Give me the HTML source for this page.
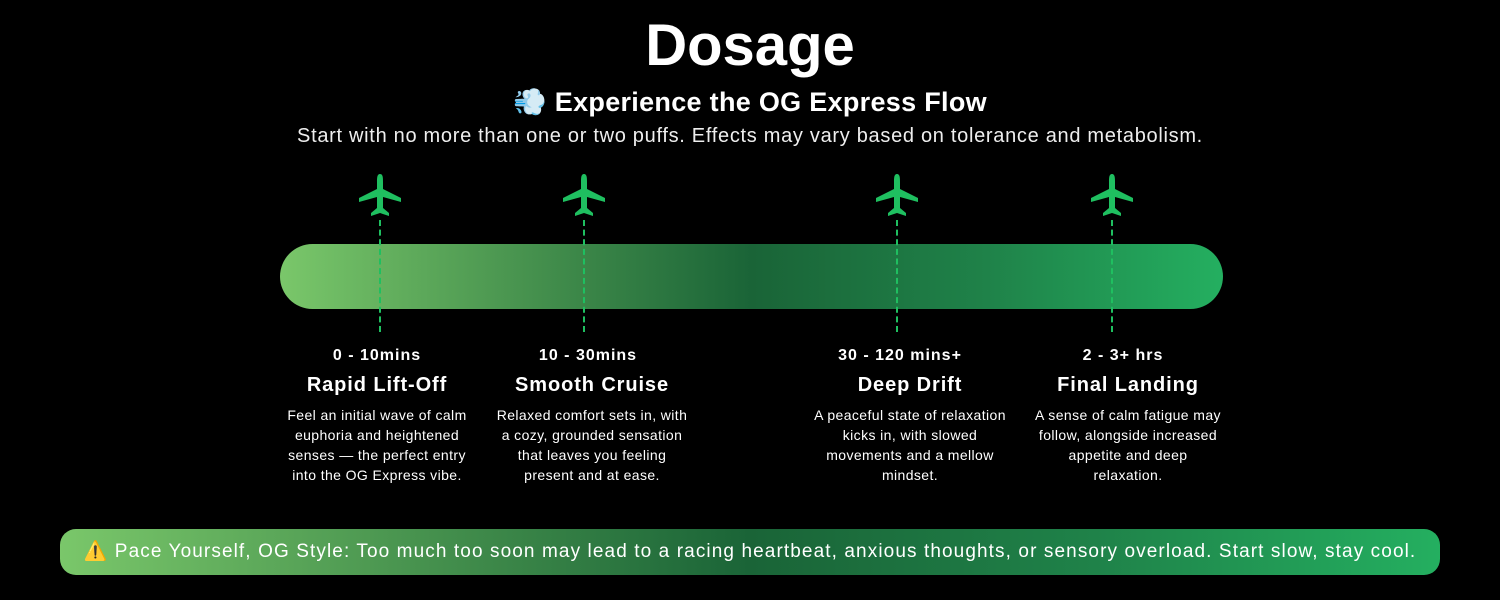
<!DOCTYPE html>
<html><head><style>
body{margin:0;width:1500px;height:600px;background:#000;position:relative;overflow:hidden;font-family:"Liberation Sans",sans-serif;color:#fff}
.a{position:absolute;text-align:center}
.t{font-weight:bold;font-size:16px;letter-spacing:1px}
.h{font-weight:bold;font-size:20px;letter-spacing:0.9px}
.d{font-size:14px;line-height:20px;letter-spacing:0.4px;width:192px;margin-left:auto;margin-right:auto}
.dash{position:absolute;width:0;border-left:2px dashed #1fbf60;top:220px;height:112px}
</style></head><body>
<div class="a" style="left:0;width:1500px;top:12px;font-size:58px;font-weight:bold">Dosage</div>
<div class="a" style="left:0;width:1500px;top:86px;font-size:27px;font-weight:bold;letter-spacing:0.3px"><span style="color:#b5dcf5">💨</span> Experience the OG Express Flow</div>
<div class="a" style="left:0;width:1500px;top:125px;font-size:20px;letter-spacing:0.7px;color:#eee">Start with no more than one or two puffs. Effects may vary based on tolerance and metabolism.</div>
<div style="position:absolute;left:280px;top:244px;width:943px;height:65px;border-radius:33px;background:linear-gradient(90deg,#7ac76a 0%,#3f8a4a 30%,#1a6437 50%,#1f8249 75%,#24af60 100%)"></div>
<svg width="1500" height="230" style="position:absolute;left:0;top:0">
<defs><g id="p"><path d="M0,-22 C3,-22 3,-18 3,-14 L3,-7 L21,2 L21,6 L3,1 L3,12 L9,17 L9,20 L0,17 L-9,20 L-9,17 L-3,12 L-3,1 L-21,6 L-21,2 L-3,-7 L-3,-14 C-3,-18 -3,-22 0,-22Z" fill="#1fbf60"/></g></defs>
<use href="#p" x="380" y="196"/><use href="#p" x="584" y="196"/><use href="#p" x="897" y="196"/><use href="#p" x="1112" y="196"/>
</svg>
<div class="dash" style="left:379px"></div><div class="dash" style="left:583px"></div><div class="dash" style="left:896px"></div><div class="dash" style="left:1111px"></div>
<div class="a" style="left:277px;width:200px;top:347px"><div class="t">0 - 10mins</div><div class="h" style="margin-top:9px">Rapid Lift-Off</div><div class="d" style="margin-top:8px">Feel an initial wave of calm euphoria and heightened senses — the perfect entry into the OG Express vibe.</div></div>
<div class="a" style="left:492px;width:200px;top:347px"><div class="t" style="margin-left:-8px">10 - 30mins</div><div class="h" style="margin-top:9px">Smooth Cruise</div><div class="d" style="margin-top:8px">Relaxed comfort sets in, with a cozy, grounded sensation that leaves you feeling present and at ease.</div></div>
<div class="a" style="left:800px;width:220px;top:347px"><div class="t" style="margin-left:-20px">30 - 120 mins+</div><div class="h" style="margin-top:9px">Deep Drift</div><div class="d" style="margin-top:8px">A peaceful state of relaxation kicks in, with slowed movements and a mellow mindset.</div></div>
<div class="a" style="left:1028px;width:200px;top:347px"><div class="t" style="margin-left:-10px">2 - 3+ hrs</div><div class="h" style="margin-top:9px">Final Landing</div><div class="d" style="margin-top:8px">A sense of calm fatigue may follow, alongside increased appetite and deep relaxation.</div></div>
<div style="position:absolute;left:60px;top:529px;width:1380px;height:46px;border-radius:16px;background:linear-gradient(90deg,#7ac76a 0%,#3f8a4a 30%,#1a6437 50%,#1f8249 75%,#24af60 100%);font-size:19px;letter-spacing:1.1px;line-height:46px;text-align:center;color:#fff;white-space:nowrap">⚠️ Pace Yourself, OG Style: Too much too soon may lead to a racing heartbeat, anxious thoughts, or sensory overload. Start slow, stay cool.</div>
</body></html>
